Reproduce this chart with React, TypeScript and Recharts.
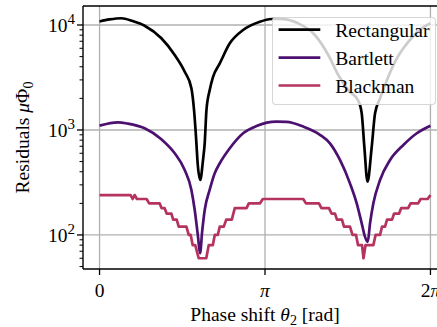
import React from 'react'
import { LineChart, Line, XAxis, YAxis, ReferenceLine } from 'recharts'

const PI = Math.PI

// phase shift (rad) and residuals
const rectTheta = [0, 0.19, 0.413, 0.628, 0.856, 1.174, 1.427, 1.617, 1.744, 1.794, 1.839, 1.858, 1.912, 1.965, 1.997, 2.03, 2.092, 2.155, 2.283, 2.473, 2.726, 3.044, 3.266, 3.424, 3.772, 4.089, 4.343, 4.533, 4.723, 4.913, 4.978, 5.028, 5.088, 5.168, 5.231, 5.326, 5.421, 5.612, 5.865, 6.119, 6.283]
const rectValues = [10800, 11300, 11600, 10900, 9850, 7470, 5180, 3590, 2500, 1550, 750, 520, 334, 520, 750, 1550, 2400, 3200, 4310, 6690, 8960, 10750, 11400, 11450, 10380, 8030, 5180, 3340, 2400, 1900, 1440, 690, 322, 690, 1440, 2000, 2690, 4480, 6940, 9300, 10400]

const bartTheta = [0, 0.348, 0.538, 0.856, 1.174, 1.427, 1.617, 1.744, 1.807, 1.87, 1.908, 1.95, 1.997, 2.092, 2.187, 2.283, 2.473, 2.726, 2.98, 3.36, 3.55, 3.868, 4.185, 4.375, 4.565, 4.755, 4.883, 4.978, 5.041, 5.092, 5.136, 5.199, 5.326, 5.516, 5.769, 6.024, 6.283]
const bartValues = [1100, 1183, 1150, 1037, 815, 600, 416, 268, 173, 96, 67, 110, 173, 270, 387, 482, 670, 931, 1091, 1200, 1195, 1077, 900, 746, 518, 310, 200, 129, 96, 86, 129, 200, 334, 518, 720, 931, 1099]

const blackTheta = [0, 0.59, 0.628, 0.666, 0.71, 0.894, 0.942, 1.141, 1.179, 1.236, 1.274, 1.364, 1.398, 1.465, 1.503, 1.649, 1.693, 1.731, 1.769, 1.817, 1.883, 2.026, 2.073, 2.15, 2.188, 2.245, 2.283, 2.359, 2.406, 2.511, 2.568, 2.791, 2.834, 3.044, 3.101, 3.867, 3.919, 4.166, 4.213, 4.356, 4.404, 4.47, 4.508, 4.603, 4.641, 4.755, 4.803, 4.87, 4.908, 4.984, 5.012, 5.05, 5.199, 5.241, 5.326, 5.364, 5.421, 5.459, 5.554, 5.593, 5.688, 5.726, 5.859, 5.906, 6.049, 6.097, 6.23, 6.283]
const blackValues = [240, 240, 220, 240, 220, 220, 200, 200, 180, 180, 160, 160, 140, 140, 120, 120, 100, 100, 80, 80, 60, 60, 80, 80, 100, 100, 120, 120, 140, 140, 180, 180, 200, 200, 220, 220, 200, 200, 180, 180, 160, 160, 140, 140, 120, 120, 100, 100, 80, 80, 60, 80, 80, 100, 100, 120, 120, 140, 140, 160, 160, 180, 180, 200, 200, 220, 220, 240]

const seriesNames = ['Rectangular', 'Bartlett', 'Blackman']
const seriesColors = ['#000000', '#4c1070', '#b5345f']
// smooth curves for the first two, the Blackman one is a staircase
const seriesCurves = ['monotone', 'monotone', 'linear'] as const

const xTicks = [0, PI, 2 * PI]
const xTickLabels = ['0', 'π', '2π']
const yMajorTicks = [100, 1000, 10000]
const yTickExponents = ['2', '3', '4']
const yMinorTicks = [50, 60, 70, 80, 90, 200, 300, 400, 500, 600, 700, 800, 900, 2000, 3000, 4000, 5000, 6000, 7000, 8000, 9000]

const X_DOMAIN = [-0.1 * PI, 2.1 * PI]
const Y_DOMAIN = [47.4, 15170]

const FONT = '"Liberation Serif", "DejaVu Serif", serif'
const FS = 19.5
const GRID = '#b0b0b0'

const toPoints = (t: number[], v: number[]) => t.map((x, i) => ({ t: x, v: v[i] }))
const series = [
  toPoints(rectTheta, rectValues),
  toPoints(bartTheta, bartValues),
  toPoints(blackTheta, blackValues)
]

function XTick(props: any) {
  const { x, y, payload } = props
  const idx = xTicks.findIndex(t => Math.abs(t - payload.value) < 1e-6)
  const label = xTickLabels[idx] ?? ''
  return (
    <g>
      <line x1={x} x2={x} y1={y} y2={y + 6} stroke="#000" strokeWidth={1.3} />
      <text x={x} y={y + 28} textAnchor="middle" fontFamily={FONT} fontSize={FS} fill="#000">
        {label.replace('π', '')}
        {label.includes('π') && <tspan fontStyle="italic">π</tspan>}
      </text>
    </g>
  )
}

function YTick(props: any) {
  const { x, y, payload } = props
  const idx = yMajorTicks.indexOf(payload.value)
  const major = idx >= 0
  return (
    <g>
      <line x1={x} x2={x - (major ? 6 : 3.5)} y1={y} y2={y} stroke="#000" strokeWidth={major ? 1.3 : 1} />
      {major && (
        <text x={x - 8} y={y + 7} textAnchor="end" fontFamily={FONT} fontSize={FS} fill="#000">
          10<tspan dy={-8} fontSize={15}>{yTickExponents[idx]}</tspan>
        </text>
      )}
    </g>
  )
}

function XLabel() {
  return (
    <text x={265} y={321} textAnchor="middle" fontFamily={FONT} fontSize={FS} fill="#000">
      Phase shift <tspan fontStyle="italic">θ</tspan>
      <tspan dy={4} fontSize={14}>2</tspan>
      <tspan dy={-4}> [rad]</tspan>
    </text>
  )
}

function YLabel() {
  return (
    <text transform="translate(28.5,137.5) rotate(-90)" textAnchor="middle" fontFamily={FONT} fontSize={FS} fill="#000">
      Residuals <tspan fontStyle="italic">μ</tspan>Φ<tspan dy={4} fontSize={14}>0</tspan>
    </text>
  )
}

function ChartLegend() {
  return (
    <div
      style={{
        position: 'absolute',
        left: 271.7,
        top: 17.3,
        width: 164,
        height: 87.7,
        boxSizing: 'border-box',
        background: 'rgba(255,255,255,0.8)',
        border: '1px solid rgba(204,204,204,0.8)',
        borderRadius: 4
      }}
    >
      <svg width={164} height={88} style={{ position: 'absolute', left: -1, top: -1 }}>
        {seriesNames.map((name, i) => {
          const cy = 12.7 + i * 27.9
          return (
            <g key={name}>
              <line x1={6.6} x2={48.3} y1={cy} y2={cy} stroke={seriesColors[i]} strokeWidth={2.7} />
              <text x={63.3} y={cy + 7.5} fontFamily={FONT} fontSize={FS} fill="#000">{name}</text>
            </g>
          )
        })}
      </svg>
    </div>
  )
}

export default function App() {
  return (
    <div style={{ position: 'fixed', left: 0, top: 0, width: 437, height: 327, overflow: 'hidden', background: '#fff' }}>
      <LineChart width={460} height={327} margin={{ top: 6, right: 13, bottom: 0, left: 0 }}>
        <XAxis
          dataKey="t"
          type="number"
          domain={X_DOMAIN}
          allowDataOverflow
          ticks={xTicks}
          interval={0}
          tick={<XTick />}
          tickSize={0}
          tickMargin={0}
          height={58}
          axisLine={{ stroke: '#000', strokeWidth: 1.4 }}
          label={<XLabel />}
        />
        <YAxis
          type="number"
          scale="log"
          domain={Y_DOMAIN}
          allowDataOverflow
          ticks={[...yMinorTicks, ...yMajorTicks]}
          interval={0}
          tick={<YTick />}
          tickSize={0}
          tickMargin={0}
          width={83}
          axisLine={{ stroke: '#000', strokeWidth: 1.4 }}
          label={<YLabel />}
        />
        {xTicks.map(t => (
          <ReferenceLine key={'gx' + t} x={t} stroke={GRID} strokeWidth={1.3} />
        ))}
        {yMajorTicks.map(t => (
          <ReferenceLine key={'gy' + t} y={t} stroke={GRID} strokeWidth={1.3} />
        ))}
        <ReferenceLine y={Y_DOMAIN[1]} stroke="#000" strokeWidth={1.4} />
        {series.map((data, i) => (
          <Line
            key={seriesNames[i]}
            data={data}
            dataKey="v"
            name={seriesNames[i]}
            type={seriesCurves[i]}
            stroke={seriesColors[i]}
            strokeWidth={2.7}
            strokeLinejoin="round"
            dot={false}
            isAnimationActive={false}
          />
        ))}
      </LineChart>
      <ChartLegend />
    </div>
  )
}
